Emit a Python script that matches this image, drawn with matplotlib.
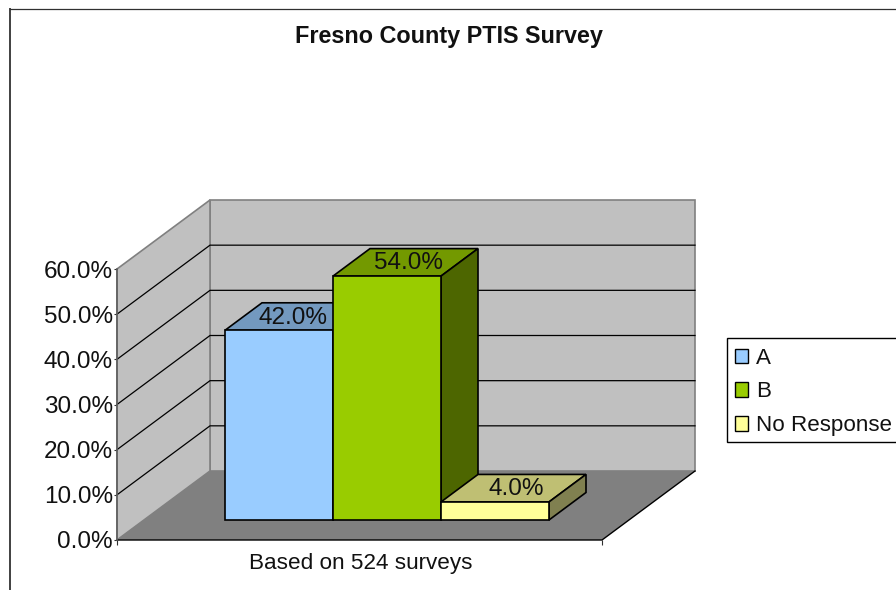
import numpy as np
import matplotlib
matplotlib.use("Agg")
import matplotlib.pyplot as plt
from matplotlib.lines import Line2D
from matplotlib.patches import Patch, Polygon, Rectangle

categories = ["A", "B", "No Response"]
values = [42.0, 54.0, 4.0]
front_colors = ["#99CCFF", "#99CC00", "#FFFF99"]
top_colors = ["#7399BF", "#739900", "#BFBF73"]
side_colors = ["#5C7A99", "#4D6600", "#808050"]
y_ticks = [0, 10, 20, 30, 40, 50, 60]
y_tick_labels = ["0.0%", "10.0%", "20.0%", "30.0%", "40.0%", "50.0%", "60.0%"]
title = "Fresno County PTIS Survey"
x_label = "Based on 524 surveys"

W, H = 896, 590
plt.rcParams["font.family"] = ["Liberation Sans", "DejaVu Sans"]

fig = plt.figure(figsize=(W / 100, H / 100), dpi=100)
# front plane of the 3d box, pixels from the top left corner
left, right, bottom, top = 117, 602, 540, 269
ax = fig.add_axes([left / W, 1 - bottom / H, (right - left) / W, (bottom - top) / H])
ax.patch.set_visible(False)

bar_px = 108.0
px_y = (bottom - top) / 60.0
xmax = (right - left) / bar_px
ax.set_xlim(0, xmax)
ax.set_ylim(0, 60)

# depth of the box and of the bars, in data units
wall_dx, wall_dy = 93 / bar_px, 69 / px_y
bar_dx, bar_dy = 37 / bar_px, 27.5 / px_y
floor_y = 20 / px_y
# the value labels do not sit quite in the middle of the bar tops
label_shift = [14 / bar_px, 21 / bar_px, 21 / bar_px]

# back wall, side wall, floor
ax.add_patch(Polygon([(wall_dx, wall_dy), (xmax + wall_dx, wall_dy), (xmax + wall_dx, 60 + wall_dy), (wall_dx, 60 + wall_dy)],
                     fc="#C0C0C0", ec="#808080", lw=1.2, clip_on=False, zorder=1))
ax.add_patch(Polygon([(0, 0), (wall_dx, wall_dy), (wall_dx, 60 + wall_dy), (0, 60)],
                     fc="#C0C0C0", ec="#808080", lw=1.2, clip_on=False, zorder=1))
ax.add_patch(Polygon([(0, 0), (xmax, 0), (xmax + wall_dx, wall_dy), (wall_dx, wall_dy)],
                     fc="#808080", ec="none", clip_on=False, zorder=1.5))
ax.plot([0, xmax, xmax + wall_dx], [0, 0, wall_dy], color="black", lw=1, clip_on=False, zorder=1.6)

# gridlines
for t in y_ticks[1:-1]:
    ax.plot([0, wall_dx, xmax + wall_dx], [t, t + wall_dy, t + wall_dy],
            color="black", lw=0.9, clip_on=False, zorder=1.2)

# bars
x = np.arange(len(values)) + 1.0
for i, v in enumerate(values):
    z = 3 + i
    ax.bar(x[i], v, width=1.0, bottom=floor_y, align="edge", color=front_colors[i],
           edgecolor="black", lw=1.2, zorder=z + 0.5, clip_on=False)
    y1 = floor_y + v
    ax.add_patch(Polygon([(x[i], y1), (x[i] + 1, y1), (x[i] + 1 + bar_dx, y1 + bar_dy), (x[i] + bar_dx, y1 + bar_dy)],
                         fc=top_colors[i], ec="black", lw=1.2, clip_on=False, zorder=z))
    ax.add_patch(Polygon([(x[i] + 1, floor_y), (x[i] + 1 + bar_dx, floor_y + bar_dy), (x[i] + 1 + bar_dx, y1 + bar_dy), (x[i] + 1, y1)],
                         fc=side_colors[i], ec="black", lw=1.2, clip_on=False, zorder=z))
    ax.text(x[i] + 0.5 + label_shift[i], y1 + bar_dy / 2 - 1 / px_y, "%.1f%%" % v, ha="center", va="center",
            fontsize=17.5, color="#111111", zorder=10)

# axes
for name in ["top", "right", "bottom"]:
    ax.spines[name].set_visible(False)
ax.spines["left"].set_color("#606060")
ax.spines["left"].set_linewidth(1.2)
ax.spines["left"].set_zorder(2)
ax.set_yticks(y_ticks)
ax.set_yticklabels(y_tick_labels, fontsize=17.5, color="#111111")
ax.tick_params(axis="y", length=2.5, width=0.8, color="#303030", pad=0.3)
ax.set_xticks([0, xmax])
ax.set_xticklabels([])
ax.tick_params(axis="x", length=3.5, width=0.8, color="#303030")
ax.text(361 / bar_px - left / bar_px, -23 / px_y, x_label, ha="center", va="center", fontsize=16.2, color="#111111", clip_on=False)

fig.text(449 / W, 1 - 36 / H, title, ha="center", va="center", fontsize=16.8, fontweight="bold", color="#111111")

# chart area border, cut off at the right and bottom of the picture
fig.add_artist(Line2D([9.5 / W, 9.5 / W], [0, 1 - 8.5 / H], color="#404040", lw=1.4))
fig.add_artist(Line2D([9.5 / W, 1], [1 - 8.5 / H, 1 - 8.5 / H], color="#303030", lw=0.9))

# legend box runs off the right edge, so it gets its own frame
fig.add_artist(Rectangle((726.5 / W, 1 - 442 / H), 190 / W, 104 / H, transform=fig.transFigure,
                         fc="white", ec="black", lw=1.0))
handles = [Patch(fc=c, ec="black", lw=1.0) for c in front_colors]
leg = fig.legend(handles, categories, loc="upper left", bbox_to_anchor=(735 / W, 1 - 347.5 / H),
                 bbox_transform=fig.transFigure, fontsize=16.1, frameon=False,
                 handlelength=0.6, handleheight=0.6,
                 handletextpad=0.35, borderaxespad=0, borderpad=0, labelspacing=0.58)
for t in leg.get_texts():
    t.set_color("#111111")

fig.savefig("out.png", dpi=100)
